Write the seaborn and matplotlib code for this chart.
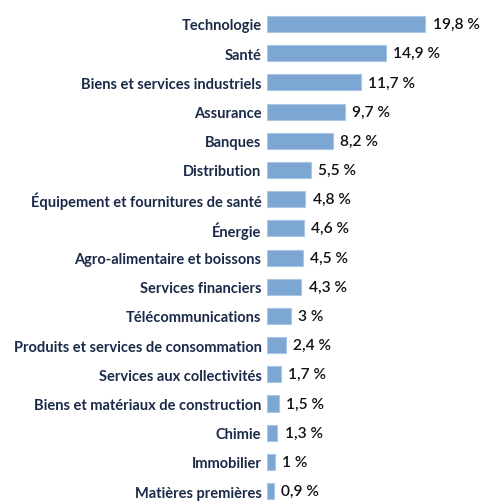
import matplotlib
matplotlib.use("Agg")
import matplotlib.pyplot as plt
import seaborn as sns
import pandas as pd

secteurs = ["Technologie", "Santé", "Biens et services industriels", "Assurance",
            "Banques", "Distribution", "Équipement et fournitures de santé", "Énergie",
            "Agro-alimentaire et boissons", "Services financiers", "Télécommunications",
            "Produits et services de consommation", "Services aux collectivités",
            "Biens et matériaux de construction", "Chimie", "Immobilier",
            "Matières premières"]
poids = [19.8, 14.9, 11.7, 9.7, 8.2, 5.5, 4.8, 4.6, 4.5, 4.3, 3, 2.4, 1.7, 1.5, 1.3, 1, 0.9]
etiquettes = ["19,8 %", "14,9 %", "11,7 %", "9,7 %", "8,2 %", "5,5 %", "4,8 %", "4,6 %",
              "4,5 %", "4,3 %", "3 %", "2,4 %", "1,7 %", "1,5 %", "1,3 %", "1 %", "0,9 %"]

df = pd.DataFrame({"secteur": secteurs, "poids": poids})

sns.set_style("white")
plt.rcParams["font.family"] = ["Lato", "DejaVu Sans"]

fig = plt.figure(figsize=(4.8, 5.02), dpi=100)
ax = fig.add_axes([267 / 480, 0, 1 - 267 / 480, 1 - 10.4 / 502])

sns.barplot(data=df, x="poids", y="secteur", color="#7ca7d3", width=0.55,
            edgecolor="#a9c6e4", linewidth=0.8, saturation=1, ax=ax)

for i, (v, lab) in enumerate(zip(poids, etiquettes)):
    ax.text(v + 0.9, i, lab, va="center", ha="left", fontsize=11.2,
            color="#111111", fontweight="semibold")

ax.set_xlim(0, (480 - 267) / 8.0)
ax.set_ylim(16.34, -0.5)
ax.set_xlabel("")
ax.set_ylabel("")
ax.set_xticks([])
ax.tick_params(axis="y", length=0, pad=4)
for t in ax.get_yticklabels():
    t.set_fontweight("bold")
    t.set_fontsize(10.5)
    t.set_color("#1b2a49")
sns.despine(ax=ax, left=True, bottom=True)

fig.savefig("out.png", dpi=100)
